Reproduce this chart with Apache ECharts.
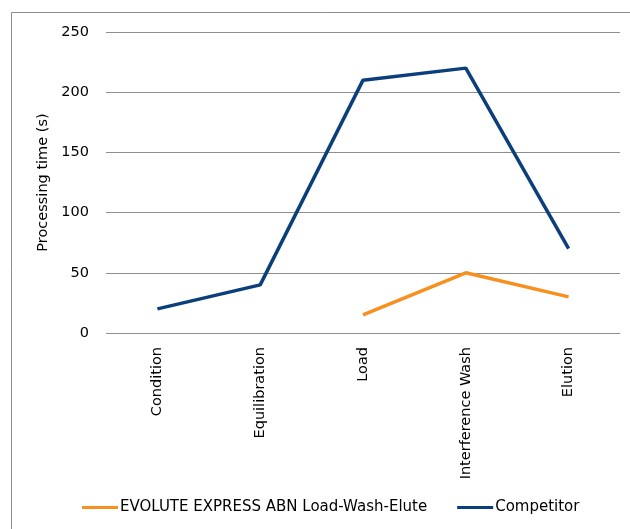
<!DOCTYPE html>
<html><head><meta charset="utf-8">
<script src="https://cdn.jsdelivr.net/npm/echarts@6/dist/echarts.min.js"></script>
<style>html,body{margin:0;padding:0;background:#fff}#c{width:630px;height:529px}</style>
</head><body><div id="c"></div>
<script>
const categories = ['Condition', 'Equilibration', 'Load', 'Interference Wash', 'Elution'];
const evoluteValues = [null, null, 15, 50, 30];
const competitorValues = [20, 40, 210, 220, 70];
const yTicks = { min: 0, max: 250, interval: 50 };

const chart = echarts.init(document.getElementById('c'), null, { renderer: 'canvas' });
const font = 'DejaVu Sans, Verdana, sans-serif';
chart.setOption({
  animation: false,
  backgroundColor: '#fff',
  graphic: [{
    type: 'rect', shape: { x: 11.5, y: 12.5, width: 640, height: 540 },
    style: { fill: 'none', stroke: '#8c8c8c', lineWidth: 1 }, silent: true
  }],
  grid: { left: 106, right: 10, top: 32, bottom: 196, containLabel: false },
  legend: {
    bottom: 9, left: 77,
    itemWidth: 36, itemHeight: 3, itemGap: 30,
    icon: 'rect',
    textStyle: { fontFamily: font, fontSize: 15, color: '#000', padding: [0, 0, 0, -3] },
    data: ['EVOLUTE EXPRESS ABN Load-Wash-Elute', 'Competitor']
  },
  xAxis: {
    type: 'category', data: categories, boundaryGap: true,
    axisLine: { show: false }, axisTick: { show: false },
    axisLabel: { rotate: 90, fontFamily: font, fontSize: 14.5, color: '#000', margin: 14, interval: 0 }
  },
  yAxis: {
    type: 'value', min: yTicks.min, max: yTicks.max, interval: yTicks.interval,
    name: 'Processing time (s)', nameLocation: 'middle', nameGap: 48, nameRotate: 90,
    nameTextStyle: { fontFamily: font, fontSize: 14.5, color: '#000' },
    axisLine: { show: false }, axisTick: { show: false },
    axisLabel: { fontFamily: font, fontSize: 14.5, color: '#000', margin: 17 },
    splitLine: { lineStyle: { color: '#8f8f8f', width: 1 } }
  },
  series: [
    { name: 'EVOLUTE EXPRESS ABN Load-Wash-Elute', type: 'line', data: evoluteValues,
      showSymbol: false, symbol: 'none', connectNulls: false,
      lineStyle: { color: '#f7901e', width: 3.5 }, itemStyle: { color: '#f7901e' } },
    { name: 'Competitor', type: 'line', data: competitorValues,
      showSymbol: false, symbol: 'none',
      lineStyle: { color: '#0b3f7c', width: 3.5 }, itemStyle: { color: '#0b3f7c' } }
  ]
});
</script></body></html>
